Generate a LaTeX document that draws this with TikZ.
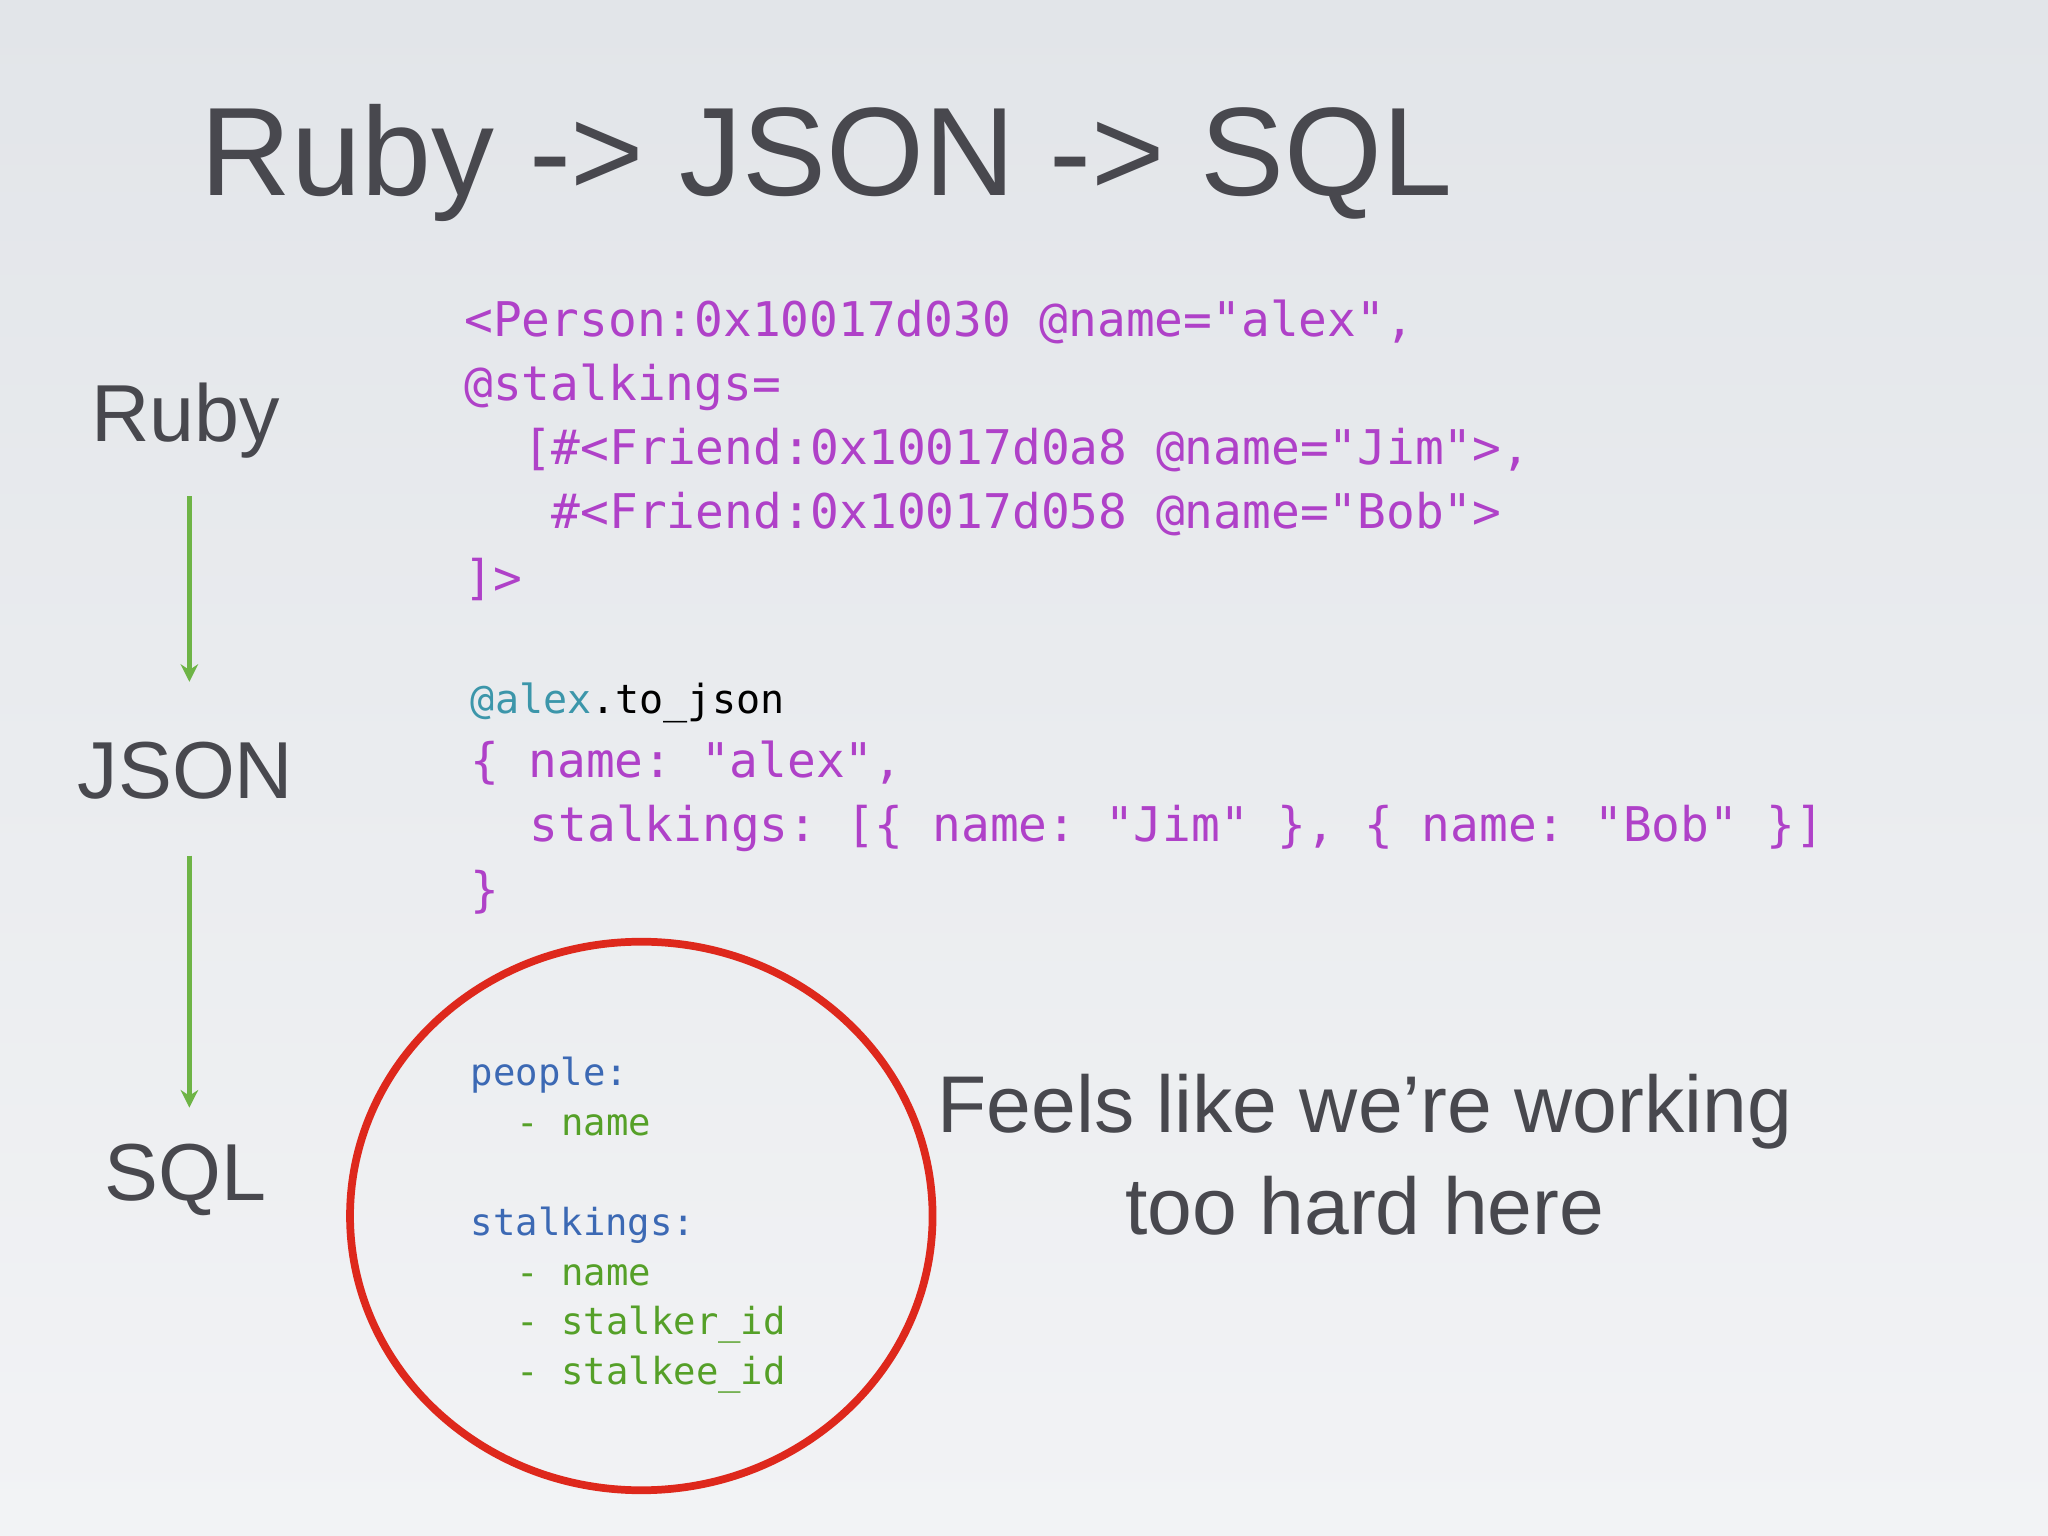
\documentclass[tikz,border=0pt]{standalone}
\usetikzlibrary{arrows.meta,shapes.geometric}
\usepackage{fontspec}
\setmainfont{Liberation Sans}
\setmonofont{DejaVu Sans Mono}
\definecolor{bgA}{RGB}{226,229,233}
\definecolor{bgB}{RGB}{242,243,245}
\definecolor{tgray}{RGB}{72,72,78}
\definecolor{cpurple}{RGB}{175,65,200}
\definecolor{cteal}{RGB}{60,150,170}
\definecolor{cblue}{RGB}{60,105,180}
\definecolor{cgreen}{RGB}{85,160,40}
\definecolor{agreen}{RGB}{110,180,70}
\definecolor{cred}{RGB}{222,40,28}
\begin{document}
\begin{tikzpicture}[x=0.013061cm,y=-0.013061cm,
  code/.style={anchor=base west,inner sep=0,font=\ttfamily\fontsize{13.6}{14}\selectfont,text=cpurple},
  small/.style={anchor=base west,inner sep=0,font=\ttfamily\fontsize{10.6}{12}\selectfont},
  lbl/.style={font=\fontsize{23}{28}\selectfont,text=tgray,inner sep=0},
  flow/.style={draw=agreen,line width=1.4pt,-{Stealth[length=5pt,width=5pt]}}]
\shade[top color=bgA,bottom color=bgB] (0,0) rectangle (1568,1176);
\useasboundingbox (0,0) rectangle (1568,1176);
\node[anchor=base west,inner sep=0,font=\fontsize{35.8}{40}\selectfont,text=tgray] (title) at (153,150) {Ruby -> JSON -> SQL};
\node[lbl] (ruby) at (142,322) {Ruby};
\node[lbl] (json) at (142,590) {JSON};
\node[lbl] (sql) at (142,903) {SQL};
\coordinate (a1) at (145,380); \coordinate (a2) at (145,522);
\coordinate (b1) at (145,655); \coordinate (b2) at (145,848);
\draw[flow] (a1) -- (a2);
\draw[flow] (b1) -- (b2);
\node[code] (r1) at (355,258) {<Person:0x10017d030 @name="alex",};
\node[code] (r2) at (355,307) {@stalkings=};
\node[code] (r3) at (400,356) {[\#<Friend:0x10017d0a8 @name="Jim">,};
\node[code] (r4) at (422,405) {\#<Friend:0x10017d058 @name="Bob">};
\node[code] (r5) at (355,455) {]>};
\node[small,font=\ttfamily\fontsize{11.4}{12}\selectfont] (j0) at (360,546) {\textcolor{cteal}{@alex}\textcolor{black}{.to\_json}};
\node[code] (j1) at (360,595) {\{ name: "alex",};
\node[code] (j2) at (405,644) {stalkings: [\{ name: "Jim" \}, \{ name: "Bob" \}]};
\node[code] (j3) at (360,694) {\}};
\node[draw=cred,line width=2.2pt,ellipse,minimum width=446*0.013061cm,minimum height=420*0.013061cm,inner sep=0] (circ) at (491,931) {};
\node[small,text=cblue] (s1) at (360,831) {people:};
\node[small,text=cgreen] (s2) at (395,869) {- name};
\node[small,text=cblue] (s3) at (360,946) {stalkings:};
\node[small,text=cgreen] (s4) at (395,984) {- name};
\node[small,text=cgreen] (s5) at (395,1022) {- stalker\_id};
\node[small,text=cgreen] (s6) at (395,1060) {- stalkee\_id};
\node[lbl,align=center,font=\fontsize{22.9}{29}\selectfont] (note) at (1045,884) {Feels like we’re working\\too hard here};
\end{tikzpicture}
\end{document}
